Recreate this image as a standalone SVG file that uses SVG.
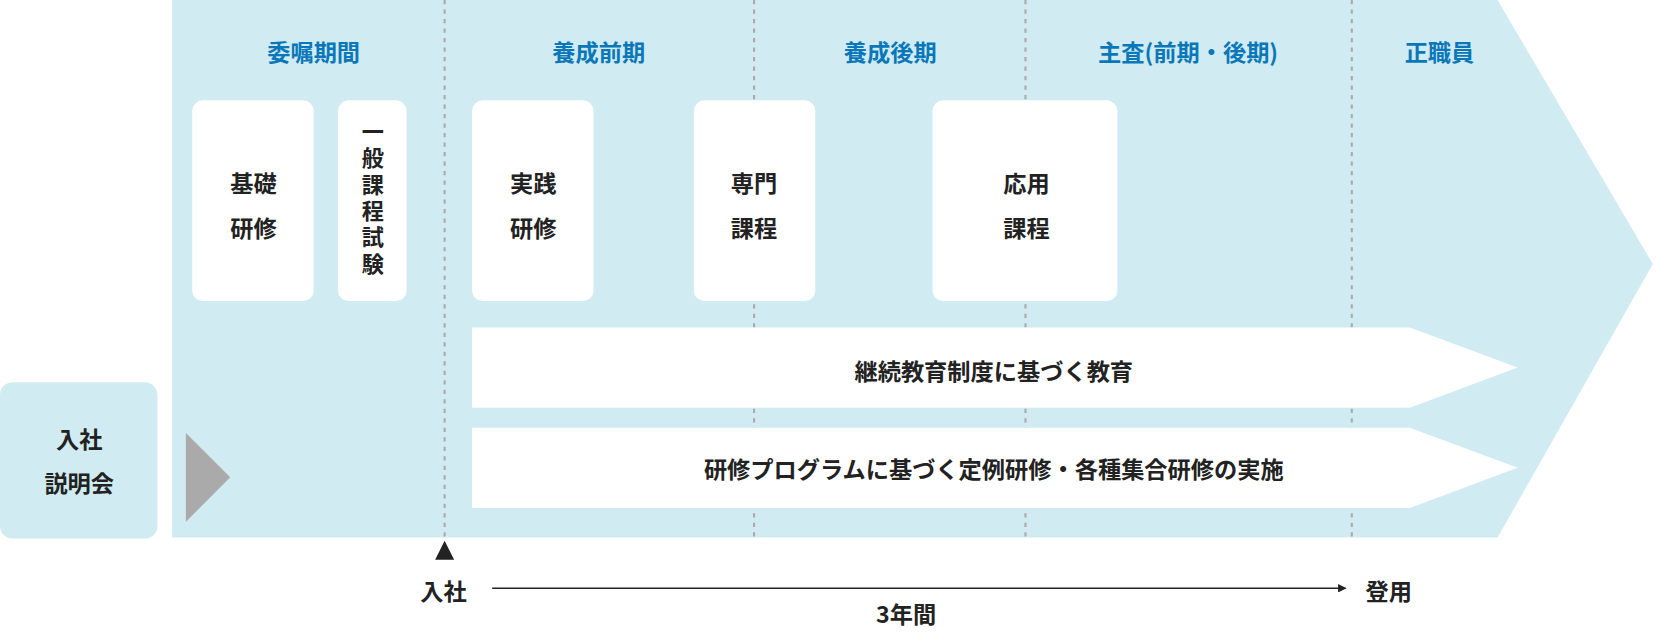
<svg xmlns="http://www.w3.org/2000/svg" width="1656" height="640" viewBox="0 0 1656 640">
<style>
text{font-family:"Noto Sans CJK JP","Noto Sans",sans-serif;font-weight:bold;font-size:22px;fill:#222;text-anchor:middle;dominant-baseline:central}
.h{fill:#0a78b8}
.v{font-size:21px;writing-mode:vertical-rl;text-anchor:start;letter-spacing:4px}
.box{fill:#fff}
.dash{stroke:#aaa;stroke-width:2;stroke-dasharray:4 5}
</style>
<defs><marker id="ah" markerWidth="8" markerHeight="8" refX="7" refY="4" orient="auto" markerUnits="userSpaceOnUse"><path d="M0,0L8,4L0,8Z" fill="#222"/></marker></defs>
<g transform="scale(1.0561)">
<g id="bg"><polygon points="163,0 1418,0 1565,250 1418,509 163,509" fill="#d0ebf1"/></g>
<g id="setsumei"><rect x="0" y="362" width="149" height="148" rx="12" fill="#d0ebf1"/><text x="75" y="415">入社</text><text x="75" y="456">説明会</text><polygon points="176,410 218,452 176,494" fill="#aaa"/></g>
<g id="connectors">
<line class="dash" x1="421" y1="0" x2="421" y2="509"/><line class="dash" x1="714" y1="0" x2="714" y2="509"/><line class="dash" x1="971" y1="0" x2="971" y2="509"/><line class="dash" x1="1280" y1="0" x2="1280" y2="509"/>
<polygon points="421,512 430,530 412,530" fill="#222"/>
<line x1="466" y1="557" x2="1274" y2="557" stroke="#222" stroke-width="1.5" marker-end="url(#ah)"/>
</g>
<g id="headers"><text class="h" x="297" y="48">委嘱期間</text><text class="h" x="567" y="48">養成前期</text><text class="h" x="843" y="48">養成後期</text><text class="h" x="1125" y="48">主査(前期・後期)</text><text class="h" x="1363" y="48">正職員</text></g>
<g id="kiso"><rect class="box" x="182" y="95" width="115" height="190" rx="10"/><text x="240" y="172">基礎</text><text x="240" y="215">研修</text></g>
<g id="ippan"><rect class="box" x="320" y="95" width="65" height="190" rx="10"/><text class="v" x="353" y="114">一般課程試験</text></g>
<g id="jissen"><rect class="box" x="447" y="95" width="115" height="190" rx="10"/><text x="505" y="172">実践</text><text x="505" y="215">研修</text></g>
<g id="senmon"><rect class="box" x="657" y="95" width="115" height="190" rx="10"/><text x="714" y="172">専門</text><text x="714" y="215">課程</text></g>
<g id="ouyou"><rect class="box" x="883" y="95" width="175" height="190" rx="10"/><text x="972" y="172">応用</text><text x="972" y="215">課程</text></g>
<g id="keizoku"><polygon class="box" points="447,310 1335,310 1437,348 1335,386 447,386"/><text x="941" y="350">継続教育制度に基づく教育</text></g>
<g id="program"><polygon class="box" points="447,405 1335,405 1437,443 1335,481 447,481"/><text x="941" y="443">研修プログラムに基づく定例研修・各種集合研修の実施</text></g>
<g id="timeline"><text x="420" y="559">入社</text><text x="1315" y="559">登用</text><text x="858" y="580">3年間</text></g>
</g>
</svg>
